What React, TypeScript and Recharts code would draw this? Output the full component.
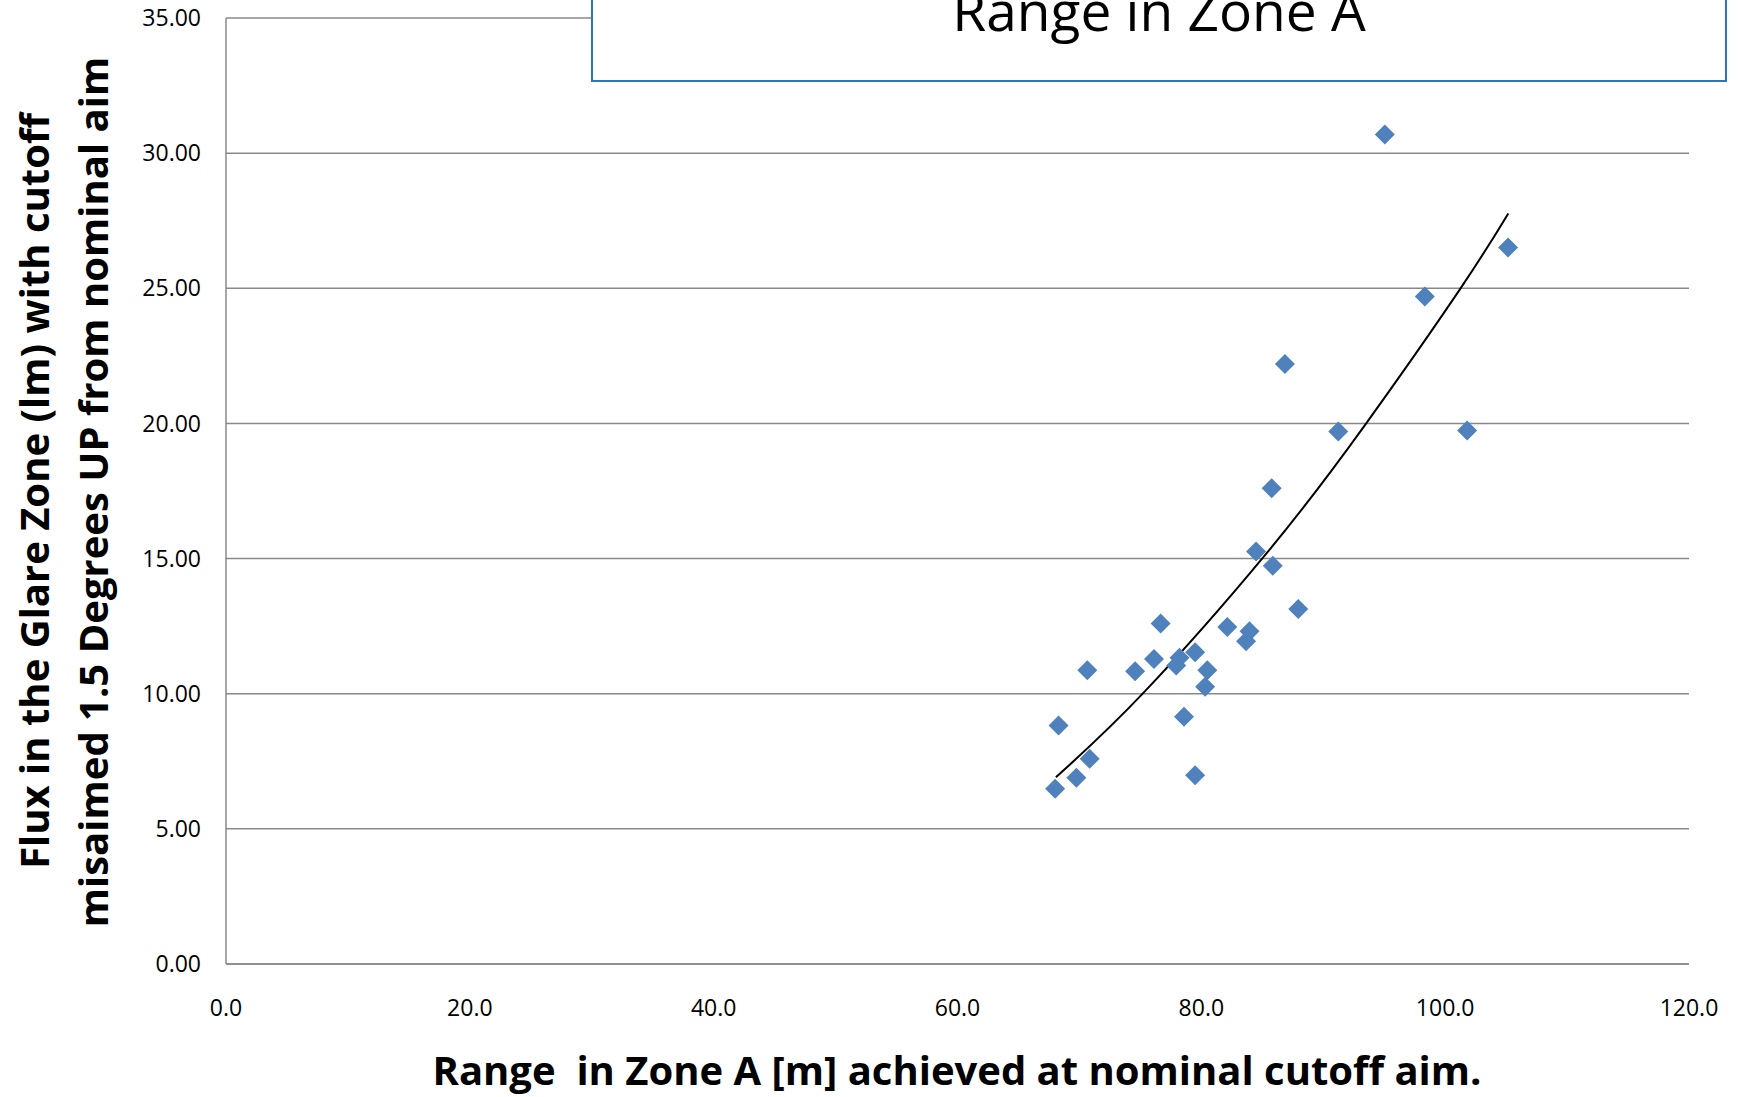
import {
  ScatterChart,
  Scatter,
  XAxis,
  YAxis,
  CartesianGrid,
  Label,
} from "recharts";

// measured points: range in zone A [m] vs glare-zone flux [lm]
const rangeA = [
  95.05, 105.16, 98.33, 86.86, 91.23, 101.8, 85.77, 84.49, 85.86, 87.95,
  76.66, 82.13, 83.95, 83.67, 76.12, 79.49, 78.21, 77.94, 70.65, 74.57,
  80.49, 80.31, 78.58, 68.29, 70.84, 69.75, 68.01, 79.49,
];
const flux = [
  30.69, 26.51, 24.7, 22.2, 19.7, 19.74, 17.6, 15.26, 14.73, 13.13,
  12.6, 12.47, 12.31, 11.94, 11.28, 11.53, 11.33, 11.04, 10.87, 10.83,
  10.87, 10.26, 9.15, 8.82, 7.59, 6.89, 6.48, 6.98,
];

// trend line
const trendX = [68.07, 75.23, 85.36, 93.42, 101.22, 105.18];
const trendY = [6.91, 10.02, 15.2, 19.94, 24.97, 27.77];

const xTicks = [0, 20, 40, 60, 80, 100, 120];
const yTicks = [0, 5, 10, 15, 20, 25, 30, 35];

const title = "Range in Zone A";
const xTitle = "Range  in Zone A [m] achieved at nominal cutoff aim.";
const yTitle1 = "Flux in the Glare Zone (lm) with cutoff";
const yTitle2 = "misaimed 1.5 Degrees UP from nominal aim";

const points = rangeA.map((x, i) => ({ x, y: flux[i] }));
const trend = trendX.map((x, i) => ({ x, y: trendY[i] }));

const FONT = "'Open Sans', sans-serif";
const GRID = "#898989";

const Diamond = (props: any) => {
  const { cx, cy } = props;
  const r = 10;
  return (
    <polygon
      points={`${cx},${cy - r} ${cx + r},${cy} ${cx},${cy + r} ${cx - r},${cy}`}
      fill="#4F81BD"
    />
  );
};

const YTitle = () => (
  <g fontFamily={FONT} fontWeight={700} fontSize={40} fill="#000">
    <text x={49} y={491} textAnchor="middle" transform="rotate(-90 49 491)">
      {yTitle1}
    </text>
    <text x={108} y={492} textAnchor="middle" transform="rotate(-90 108 492)">
      {yTitle2}
    </text>
  </g>
);

const XTitle = () => (
  <text
    x={957}
    y={1085}
    textAnchor="middle"
    fontFamily={FONT}
    fontWeight={700}
    fontSize={40}
    fill="#000"
    style={{ whiteSpace: "pre" }}
  >
    {xTitle}
  </text>
);

export default function App() {
  return (
    <div style={{ position: "absolute", left: 0, top: 0, width: 1740, height: 1097, background: "#fff" }}>
      <ScatterChart
        width={1740}
        height={1097}
        margin={{ top: 18, right: 51, bottom: 0, left: 0 }}
      >
        <CartesianGrid vertical={false} stroke={GRID} strokeWidth={1.5} />
        <XAxis
          dataKey="x"
          type="number"
          domain={[0, 120]}
          ticks={xTicks}
          tickFormatter={(v) => v.toFixed(1)}
          height={133}
          tickLine={false}
          tickSize={0}
          tickMargin={36}
          axisLine={{ stroke: GRID, strokeWidth: 1.5 }}
          tick={{ fontSize: 23, fontFamily: FONT, fill: "#000" }}
        >
          <Label content={XTitle} />
        </XAxis>
        <YAxis
          dataKey="y"
          type="number"
          domain={[0, 35]}
          ticks={yTicks}
          tickFormatter={(v) => v.toFixed(2)}
          width={226}
          tickLine={false}
          tickSize={0}
          tickMargin={25}
          axisLine={{ stroke: GRID, strokeWidth: 1.5 }}
          tick={{ fontSize: 23, fontFamily: FONT, fill: "#000" }}
        >
          <Label content={YTitle} />
        </YAxis>
        <Scatter
          data={trend}
          line={{ stroke: "#000", strokeWidth: 2 }}
          lineJointType="natural"
          shape={() => <g />}
          isAnimationActive={false}
        />
        <Scatter data={points} shape={Diamond} isAnimationActive={false} />
      </ScatterChart>
      <svg
        width={1740}
        height={100}
        style={{ position: "absolute", left: 0, top: 0, overflow: "visible" }}
      >
        <rect x={592} y={-20} width={1134} height={101} fill="#fff" stroke="#2E75B6" strokeWidth={2} />
        <text x={1159} y={31} textAnchor="middle" fontFamily={FONT} fontSize={55} fill="#000">
          {title}
        </text>
      </svg>
    </div>
  );
}
